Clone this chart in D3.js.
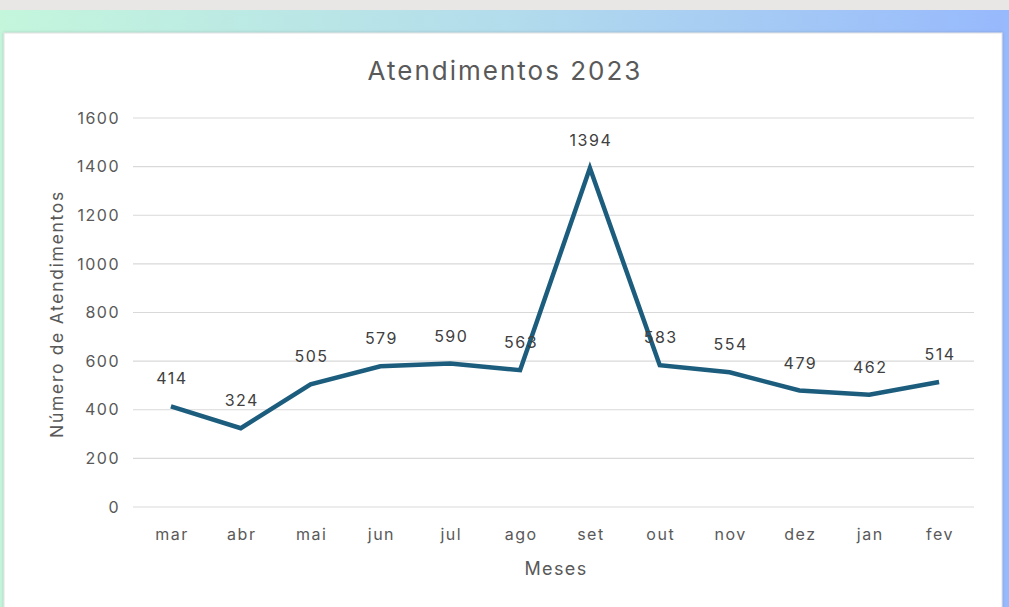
<!DOCTYPE html>
<html><head><meta charset="utf-8">
<script src="https://cdn.jsdelivr.net/npm/d3@7"></script>
<style>
html,body{margin:0;padding:0;}
body{width:1009px;height:607px;overflow:hidden;}
svg text{font-family:Inter,"Liberation Sans",Arial,sans-serif;}
</style></head>
<body>
<svg id="c" width="1009" height="607"></svg>
<script>
const months = ["mar","abr","mai","jun","jul","ago","set","out","nov","dez","jan","fev"];
const values = [414,324,505,579,590,563,1394,583,554,479,462,514];
const yTicks = [0,200,400,600,800,1000,1200,1400,1600];
const title = "Atendimentos 2023";
const xTitle = "Meses";
const yTitle = "Número de Atendimentos";

const svg = d3.select("#c");
const defs = svg.append("defs");
const grad = defs.append("linearGradient").attr("id","bg").attr("x1","0").attr("x2","1").attr("y1","0").attr("y2","0");
grad.append("stop").attr("offset","0").attr("stop-color","#c4f6dc");
grad.append("stop").attr("offset","0.5").attr("stop-color","#b3dcec");
grad.append("stop").attr("offset","1").attr("stop-color","#97b9fd");
const f = defs.append("filter").attr("id","sh").attr("x","-5%").attr("y","-5%").attr("width","110%").attr("height","110%");
f.append("feDropShadow").attr("dx",0).attr("dy",0).attr("stdDeviation",1.5).attr("flood-color","#000").attr("flood-opacity",0.18);

svg.append("rect").attr("x",0).attr("y",0).attr("width",1009).attr("height",607).attr("fill","#e9e7e5");
svg.append("rect").attr("x",0).attr("y",10).attr("width",1009).attr("height",597).attr("fill","url(#bg)");
svg.append("rect").attr("x",4).attr("y",33).attr("width",998).attr("height",580).attr("fill","#ffffff").attr("stroke","#e2e2e2").attr("filter","url(#sh)");

const x = d3.scaleBand().domain(months).range([136,974]);
const y = d3.scaleLinear().domain([0,1600]).range([507,118]);
const col = "#595959";

// grid
svg.append("g").selectAll("line").data(yTicks).join("line")
  .attr("x1",133).attr("x2",974)
  .attr("y1",d=>y(d)).attr("y2",d=>y(d))
  .attr("stroke","#d9d9d9").attr("stroke-width",1.2);

// y axis labels
const ya = svg.append("g").attr("transform","translate(120,0)")
  .call(d3.axisLeft(y).tickValues(yTicks).tickFormat(d3.format("d")).tickSize(0).tickPadding(0));
ya.select(".domain").remove();
ya.selectAll("text").attr("fill",col).attr("font-size",16).attr("letter-spacing",1.5).attr("font-family",null);

// x axis labels
const xa = svg.append("g").attr("transform","translate(1,529)")
  .call(d3.axisBottom(x).tickSize(0).tickPadding(0));
xa.select(".domain").remove();
xa.selectAll("text").attr("fill",col).attr("font-size",16).attr("letter-spacing",1.5).attr("font-family",null);

// line
const line = d3.line().x((d,i)=>x(months[i])+x.bandwidth()/2).y(d=>y(d));
svg.append("path").datum(values).attr("d",line)
  .attr("fill","none").attr("stroke","#1c5d7e").attr("stroke-width",4.5)
  .attr("stroke-linejoin","miter").attr("stroke-linecap","butt");

// data labels
svg.append("g").selectAll("text").data(values).join("text")
  .attr("x",(d,i)=>x(months[i])+x.bandwidth()/2+1)
  .attr("y",d=>y(d)-22)
  .attr("text-anchor","middle").attr("fill","#404040").attr("font-size",16).attr("letter-spacing",1.5)
  .text(d=>d);

// titles
svg.append("text").attr("x",505).attr("y",80).attr("text-anchor","middle")
  .attr("fill",col).attr("font-size",26).attr("letter-spacing",2).text(title);
svg.append("text").attr("x",556).attr("y",575).attr("text-anchor","middle")
  .attr("fill",col).attr("font-size",18).attr("letter-spacing",1.4).text(xTitle);
svg.append("text").attr("transform","translate(63,314) rotate(-90)").attr("text-anchor","middle")
  .attr("fill",col).attr("font-size",17.5).attr("letter-spacing",1.7).text(yTitle);
</script>
</body></html>
